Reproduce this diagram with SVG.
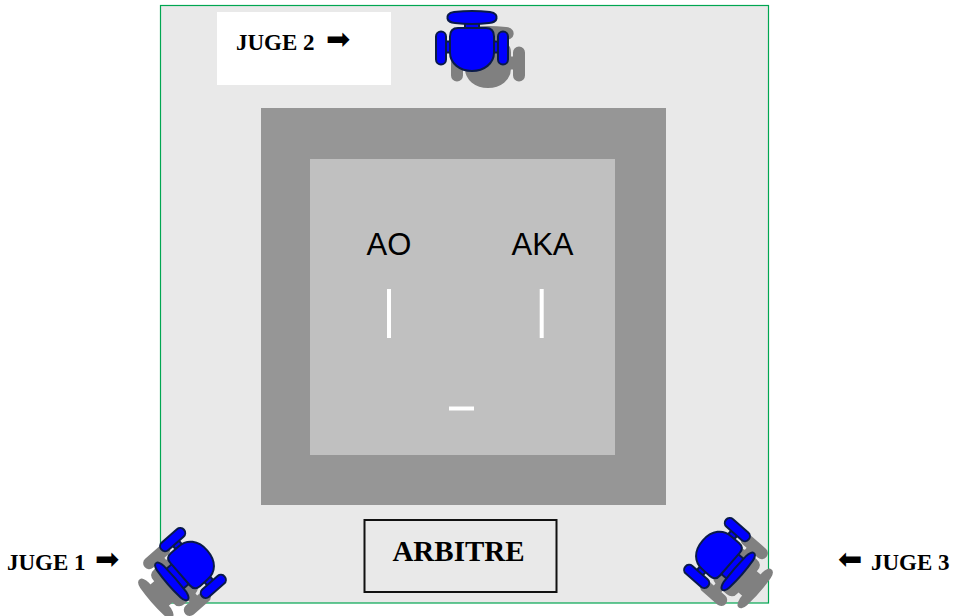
<svg xmlns="http://www.w3.org/2000/svg" width="958" height="616" viewBox="0 0 958 616">
<style>
.lbl{font-family:"Liberation Serif",serif;font-weight:700;font-size:23px;fill:#000}
.arr{font-family:"DejaVu Sans",sans-serif;font-size:29px;fill:#000}
.big{font-family:"Liberation Sans",Arial,sans-serif;font-size:31px;fill:#000}
.mark{stroke:#fff;stroke-width:4;fill:none}
.solid{fill:#0000ff;stroke:#0a1a4a;stroke-width:2}
.shadow{fill:#808080;stroke:#808080;stroke-width:2}
</style>
<defs>
<g id="chair">
<rect x="-7" y="-27" width="14" height="6"/>
<rect x="-29" y="-8" width="8" height="11"/>
<rect x="21" y="-8" width="8" height="11"/>
<path d="M-18-37.500C-8-38.500 8-38.500 18-37.500C24-37 25-33 24.500-31C24-27.500 21-27 17-26.500C8-25.500-8-25.500-17-26.500C-21-27-24-27.500-24.500-31C-25-33-24-37-18-37.500Z"/>
<rect x="-36" y="-18" width="10" height="33" rx="5" ry="5"/>
<rect x="26" y="-18" width="10" height="33" rx="5" ry="5"/>
<path d="M-14-21.500H14Q22-21.500 22-13V3C22 14 12 21.500 0 21.500S-22 14-22 3V-13Q-22-21.500-14-21.500Z"/>
</g>
<g id="chair-turned">
<rect x="-13" y="-24" width="26" height="8"/>
<rect x="-27" y="-4" width="6" height="8"/>
<rect x="21" y="-4" width="6" height="8"/>
<path d="M-18-32C-8-33 8-33 18-32C23-31.500 25-29 24-27C23-25 20-24.500 17-24C8-23.500-8-23.500-17-24C-20-24.500-23-25-24-27C-25-29-23-31.500-18-32Z"/>
<rect x="26" y="-15" width="10" height="30" rx="5" ry="5"/>
<rect x="-36" y="-15" width="10" height="30" rx="5" ry="5"/>
<path d="M-15-17H15Q22-17 22-10V0C22 11 14 19 0 19S-22 11-22 0V-10Q-22-17-15-17Z"/>
</g>
</defs>
<g id="floor">
<rect x="160.500" y="5.500" width="608" height="597.500" fill="#e9e9e9" stroke="#00a651" stroke-width="1.200"/>
<rect x="261" y="108" width="405" height="397" fill="#969696"/>
<rect x="310" y="159" width="305" height="296" fill="#c0c0c0"/>
</g>
<g id="juge2-label">
<rect x="217" y="12" width="174" height="73" fill="#fff"/>
<text class="lbl" x="236" y="50">JUGE 2</text>
<text class="arr" x="326" y="49">➡</text>
</g>
<g id="juge2-chair">
<use href="#chair" transform="translate(488 65.500)" class="shadow"/>
<use href="#chair" transform="translate(472 49.500)" class="solid"/>
</g>
<g id="juge1-label">
<text class="lbl" x="7" y="570">JUGE 1</text>
<text class="arr" x="95" y="569">➡</text>
</g>
<g id="juge1-chair">
<use href="#chair-turned" transform="translate(177 580) rotate(-131)" class="shadow"/>
<use href="#chair-turned" transform="translate(193 563) rotate(-131)" class="solid"/>
</g>
<g id="juge3-label">
<text class="arr" x="838" y="569">⬅</text>
<text class="lbl" x="871" y="570">JUGE 3</text>
</g>
<g id="juge3-chair">
<use href="#chair-turned" transform="translate(734 570) rotate(131)" class="shadow"/>
<use href="#chair-turned" transform="translate(717 553) rotate(131)" class="solid"/>
</g>
<g id="arbitre">
<rect x="364.500" y="520" width="192" height="72" fill="none" stroke="#111" stroke-width="2"/>
<text x="458.500" y="561" text-anchor="middle" style="font-family:'Liberation Serif',serif;font-weight:700;font-size:29px">ARBITRE</text>
</g>
<g id="ao"><text class="big" x="366.500" y="255">AO</text><line class="mark" x1="389" y1="289" x2="389" y2="338"/></g>
<g id="aka"><text class="big" x="511.500" y="255">AKA</text><line class="mark" x1="541.700" y1="289" x2="541.700" y2="338"/></g>
<g id="referee-mark"><line class="mark" x1="449" y1="408.500" x2="474" y2="408.500"/></g>
</svg>
